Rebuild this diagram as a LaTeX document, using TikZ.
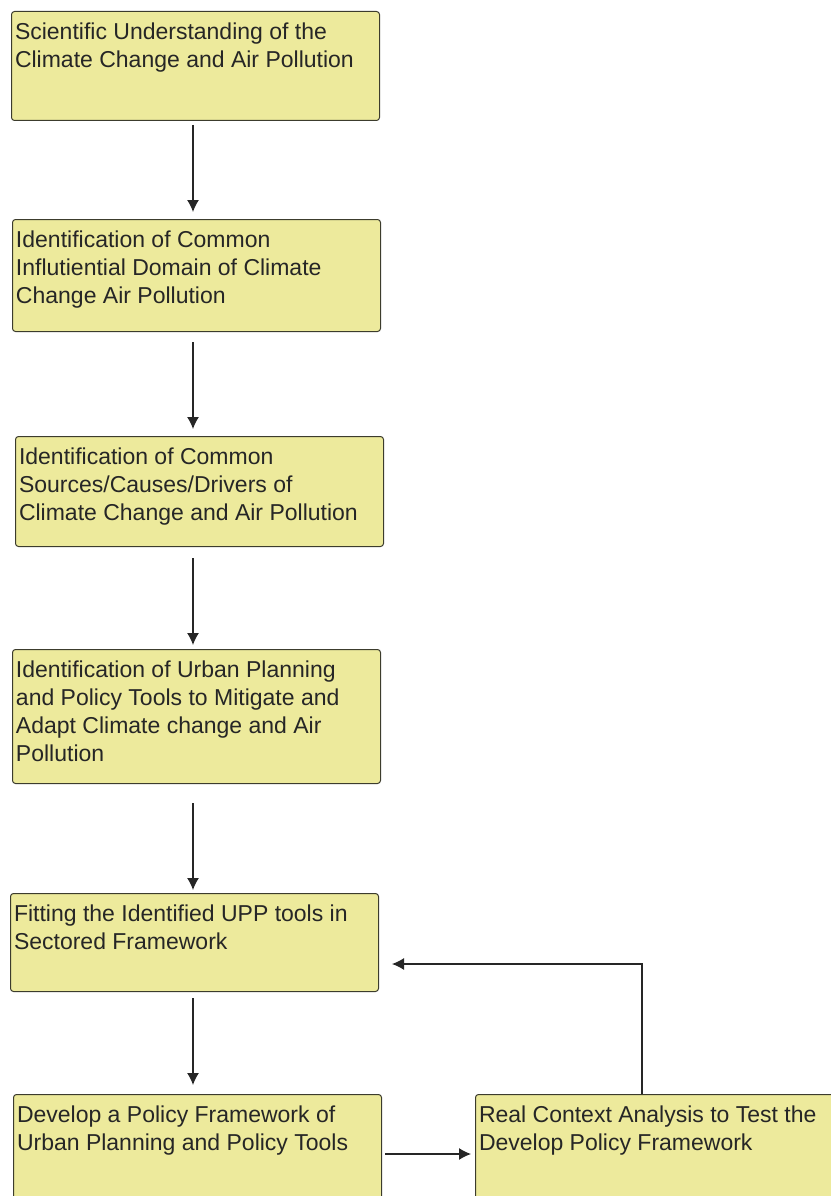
\documentclass[tikz,border=0pt]{standalone}
\usepackage{fontspec}
\setmainfont{Liberation Sans}
\usepackage{tikz}
\usetikzlibrary{arrows.meta, positioning}
\definecolor{stagefill}{RGB}{237,234,156}
\definecolor{stageline}{RGB}{60,60,45}
\newcommand{\stagetext}[2]{\parbox[t][#1][t]{361pt}{\raggedright #2}}

\begin{document}
\begin{tikzpicture}[x=1pt, y=1pt, every node/.style={font=\fontsize{23}{28}\selectfont, text=black!85},
    stage/.style={rectangle, draw=stageline, line width=1pt, fill=stagefill, rounded corners=3pt, inner xsep=3.5pt, inner ysep=11pt},
    flow/.style={-{Latex[length=12pt,width=12pt]}, draw=black!85, line width=1.2pt}]
    \useasboundingbox (0,0) rectangle (830,-1196);
    % Stages, top to bottom
    \node (s1) [stage, anchor=north west] at (11,-11) {\stagetext{87pt}{Scientific Understanding of the\\Climate Change and Air Pollution}};
    \node (s2) [stage, below right=98pt and 1pt of s1.south west] {\stagetext{90pt}{Identification of Common\\Influtiential Domain of Climate\\Change Air Pollution}};
    \node (s3) [stage, below right=104pt and 3pt of s2.south west] {\stagetext{88pt}{Identification of Common\\Sources/Causes/Drivers of\\Climate Change and Air Pollution}};
    \node (s4) [stage, below right=102pt and -3pt of s3.south west] {\stagetext{112pt}{Identification of Urban Planning\\and Policy Tools to Mitigate and\\Adapt Climate change and Air\\Pollution}};
    \node (s5) [stage, below right=109pt and -2pt of s4.south west] {\stagetext{76pt}{Fitting the Identified UPP tools in\\Sectored Framework}};
    \node (s6) [stage, below right=102pt and 3pt of s5.south west] {\stagetext{93pt}{Develop a Policy Framework of\\Urban Planning and Policy Tools}};
    % Test box
    \node (s7) [stage, right=93pt of s6.north east, anchor=north west] {\stagetext{93pt}{Real Context Analysis to Test the\\Develop Policy Framework}};

    % Arrows
    \coordinate (axis) at ([xshift=-2.5pt]s1.south);
    \draw [flow, shorten <=4pt, shorten >=7pt] (s1.south -| axis) -- (axis |- s2.north);
    \draw [flow, shorten <=10pt, shorten >=7pt] (axis |- s2.south) -- (axis |- s3.north);
    \draw [flow, shorten <=11pt, shorten >=4pt] (axis |- s3.south) -- (axis |- s4.north);
    \draw [flow, shorten <=19pt, shorten >=3pt] (axis |- s4.south) -- (axis |- s5.north);
    \draw [flow, shorten <=6pt, shorten >=9pt] (axis |- s5.south) -- (axis |- s6.north);
    \draw [flow, shorten <=3pt, shorten >=4pt] ([yshift=-60pt]s6.north east) -- ([yshift=-60pt]s7.north west);
    \draw [flow] ([xshift=167pt]s7.north west) |- ([xshift=13pt,yshift=-71pt]s5.north east);
\end{tikzpicture}
\end{document}
